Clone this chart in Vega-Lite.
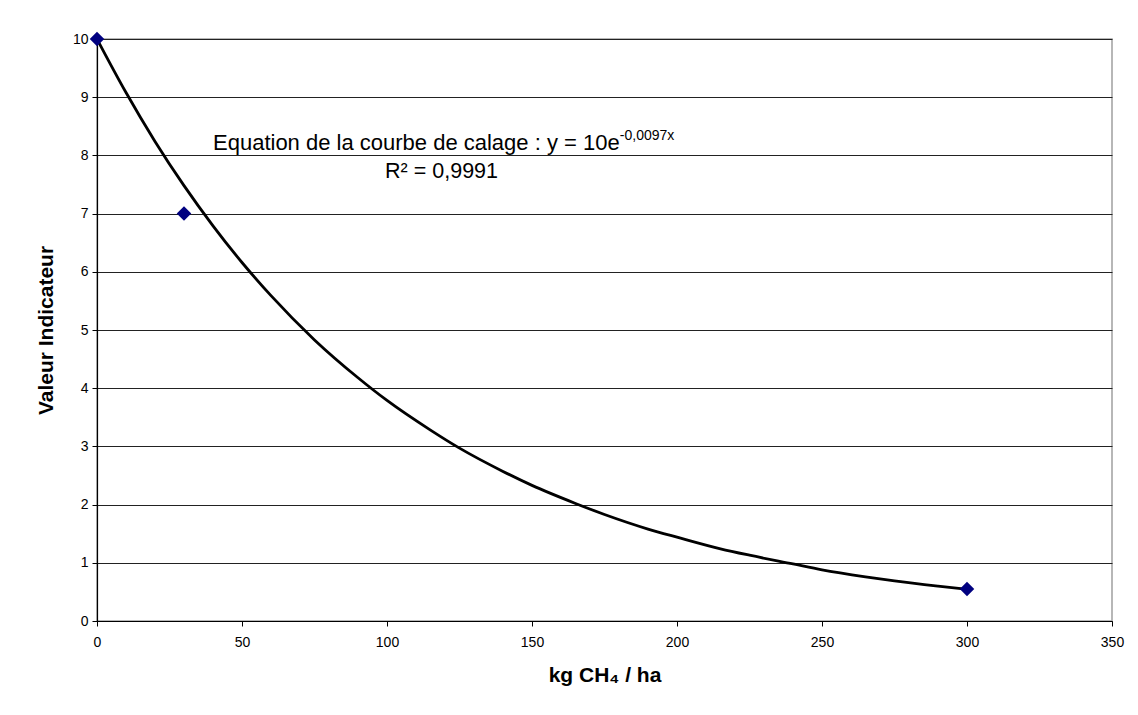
{
  "$schema": "https://vega.github.io/schema/vega-lite/v6.json",
  "autosize": {"type": "none"},
  "width": 1015,
  "height": 582,
  "padding": {"left": 97, "top": 39, "right": 26, "bottom": 94},
  "background": "white",
  "config": {
    "font": "Liberation Sans",
    "view": {"stroke": "#a0a0a0", "strokeWidth": 1.5},
    "axis": {
      "labelFont": "Liberation Sans",
      "titleFont": "Liberation Sans",
      "labelColor": "black",
      "titleColor": "black",
      "domainColor": "black",
      "tickColor": "black",
      "gridColor": "#222222",
      "gridOpacity": 1,
      "gridWidth": 1,
      "domainWidth": 1.2,
      "tickSize": 5,
      "labelFontSize": 14,
      "titleFontSize": 21,
      "titleFontWeight": "bold"
    }
  },
  "datasets": {
    "points": [
      {"x": 0, "y": 10},
      {"x": 30, "y": 7},
      {"x": 300, "y": 0.55}
    ],
    "curve": [
      {"x": 0, "y": 10},
      {"x": 10, "y": 9.08},
      {"x": 20, "y": 8.24},
      {"x": 30, "y": 7.48},
      {"x": 40, "y": 6.79},
      {"x": 50, "y": 6.16},
      {"x": 60, "y": 5.59},
      {"x": 75, "y": 4.83},
      {"x": 90, "y": 4.18},
      {"x": 100, "y": 3.79},
      {"x": 115, "y": 3.28},
      {"x": 125, "y": 2.97},
      {"x": 140, "y": 2.57},
      {"x": 150, "y": 2.33},
      {"x": 165, "y": 2.02},
      {"x": 175, "y": 1.83},
      {"x": 190, "y": 1.58},
      {"x": 200, "y": 1.44},
      {"x": 215, "y": 1.24},
      {"x": 225, "y": 1.13},
      {"x": 240, "y": 0.98},
      {"x": 250, "y": 0.88},
      {"x": 265, "y": 0.76},
      {"x": 275, "y": 0.69},
      {"x": 290, "y": 0.60},
      {"x": 300, "y": 0.545}
    ],
    "notes": [{"id": 1}]
  },
  "layer": [
    {
      "data": {"name": "curve"},
      "mark": {"type": "line", "color": "black", "strokeWidth": 2.8, "interpolate": "monotone"},
      "encoding": {
        "x": {
          "field": "x", "type": "quantitative",
          "scale": {"domain": [0, 350], "nice": false, "zero": false},
          "axis": {
            "title": "kg CH₄ / ha",
            "values": [0, 50, 100, 150, 200, 250, 300, 350],
            "format": "d",
            "grid": false,
            "labelPadding": 9,
            "titlePadding": 15,
            "labelFlush": false
          }
        },
        "y": {
          "field": "y", "type": "quantitative",
          "scale": {"domain": [0, 10], "nice": false},
          "axis": {
            "title": "Valeur Indicateur",
            "values": [0, 1, 2, 3, 4, 5, 6, 7, 8, 9, 10],
            "format": "d",
            "grid": true,
            "labelPadding": 4,
            "titlePadding": 16,
            "labelFlush": false
          }
        }
      }
    },
    {
      "data": {"name": "points"},
      "mark": {"type": "point", "shape": "diamond", "filled": true, "color": "#000080", "size": 210, "opacity": 1},
      "encoding": {
        "x": {"field": "x", "type": "quantitative"},
        "y": {"field": "y", "type": "quantitative"}
      }
    },
    {
      "data": {"name": "notes"},
      "mark": {"type": "text", "align": "left", "baseline": "alphabetic", "fontSize": 22, "color": "black", "font": "Liberation Sans"},
      "encoding": {
        "x": {"datum": 40},
        "y": {"datum": 8.093},
        "text": {"value": "Equation de la courbe de calage : y = 10e"}
      }
    },
    {
      "data": {"name": "notes"},
      "mark": {"type": "text", "align": "left", "baseline": "alphabetic", "fontSize": 14, "color": "black", "font": "Liberation Sans"},
      "encoding": {
        "x": {"datum": 180.3},
        "y": {"datum": 8.265},
        "text": {"value": "-0,0097x"}
      }
    },
    {
      "data": {"name": "notes"},
      "mark": {"type": "text", "align": "center", "baseline": "alphabetic", "fontSize": 21.5, "color": "black", "font": "Liberation Sans"},
      "encoding": {
        "x": {"datum": 118.8},
        "y": {"datum": 7.61},
        "text": {"value": "R² = 0,9991"}
      }
    }
  ]
}
